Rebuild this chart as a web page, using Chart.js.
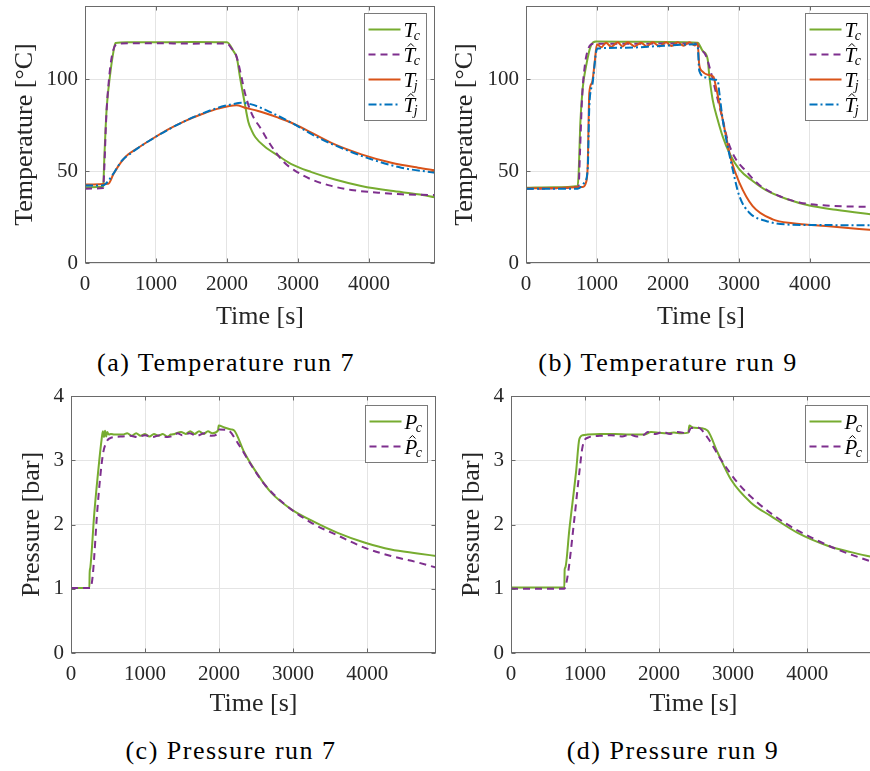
<!DOCTYPE html>
<html>
<head>
<meta charset="utf-8">
<script src="https://cdn.jsdelivr.net/npm/chart.js@4.4.1/dist/chart.umd.min.js"></script>
<style>
    html, body { margin: 0; padding: 0; background: #fff; }
    body { width: 870px; height: 771px; overflow: hidden; position: relative; }
    canvas { position: absolute; }
    .caption {
        position: absolute;
        font-family: "Liberation Serif", serif;
        font-size: 26px;
        line-height: 26px;
        letter-spacing: 1.5px;
        color: #000;
        white-space: nowrap;
        transform: translateX(-50%);
    }
</style>
</head>
<body>
<canvas id="chart-a" width="440" height="335" style="left:0;top:0"></canvas>
<canvas id="chart-b" width="436" height="335" style="left:440px;top:0"></canvas>
<canvas id="chart-c" width="440" height="340" style="left:0;top:380px"></canvas>
<canvas id="chart-d" width="436" height="340" style="left:440px;top:380px"></canvas>
<div class="caption" style="left:226px;top:350px">(a) Temperature run 7</div>
<div class="caption" style="left:668px;top:350px">(b) Temperature run 9</div>
<div class="caption" style="left:231px;top:738px">(c) Pressure run 7</div>
<div class="caption" style="left:673px;top:738px">(d) Pressure run 9</div>

<script>
// ---- data ----
const X_MAX = 4930;
const timeTicks = [0, 1000, 2000, 3000, 4000];
const tempTicks = [0, 50, 100];
const presTicks = [0, 1, 2, 3, 4];

// (a) temperature, run 7
const run7TcTime = [0, 250, 258, 270, 305, 352, 400, 430, 600, 1000, 1500, 2000, 2090, 2140, 2180, 2250, 2300, 2350, 2400, 2530, 2720, 2900, 3190, 3520, 3890, 4310, 4690, 4930];
const run7Tc = [41.2, 41.4, 42, 55, 84, 102, 115, 119.8, 120.3, 120.2, 120.4, 120.2, 115.5, 111.5, 102, 87, 77, 72, 68.5, 63.5, 58.5, 54, 49.5, 45.5, 42, 39.3, 37.5, 35.8];
const run7TcHatTime = [0, 255, 270, 300, 340, 380, 430, 500, 1000, 1500, 2000, 2060, 2130, 2200, 2250, 2340, 2480, 2620, 2800, 2950, 3190, 3470, 3750, 4130, 4460, 4930];
const run7TcHat = [40.5, 40.8, 50, 80, 101, 113, 118.8, 119.6, 119.7, 119.5, 119.6, 117, 113, 102, 93, 82, 73, 64, 55, 50.5, 45.5, 42, 39.8, 38.3, 37.4, 37];
const run7TjTime = [0, 328, 399, 469, 540, 610, 750, 938, 1172, 1407, 1641, 1876, 2134, 2251, 2439, 2720, 2908, 3189, 3518, 3893, 4315, 4690, 4930];
const run7Tj = [42.8, 43.2, 48.3, 52.8, 56.5, 59.2, 62.8, 67.4, 72.8, 77.3, 81, 84.1, 85.9, 84.6, 82.8, 79.2, 76.4, 71, 64.6, 59.2, 54.6, 51.9, 50.5];
const run7TjHatTime = [0, 258, 328, 422, 516, 657, 938, 1407, 1876, 2064, 2204, 2345, 2626, 2908, 3283, 3658, 4033, 4456, 4930];
const run7TjHat = [42.2, 42.3, 44.7, 50, 55.6, 60.1, 67.4, 77.3, 84.6, 86.4, 87.3, 86.4, 81.9, 76.4, 68.3, 61.9, 56.5, 51.9, 49.2];

// (b) temperature, run 9
const run9TcTime = [0, 400, 728, 742, 765, 798, 845, 916, 986, 1500, 2000, 2418, 2488, 2559, 2582, 2629, 2700, 2770, 2864, 3005, 3193, 3380, 3662, 3991, 4366, 4930];
const run9Tc = [41, 41.3, 42, 49, 76, 95, 107, 118.6, 120.6, 120.5, 120.4, 120, 115.5, 111, 102, 89, 78, 69, 60, 51, 44.7, 39.7, 35, 31.3, 29, 26.2];
const run9TcHatTime = [0, 740, 760, 790, 830, 880, 950, 1500, 2000, 2400, 2441, 2535, 2606, 2676, 2770, 2840, 2934, 3099, 3287, 3568, 3850, 4225, 4930];
const run9TcHat = [40.5, 41.5, 60, 90, 108, 117, 119.5, 119.4, 119.6, 119.5, 117.3, 112.8, 103.7, 92.8, 78.3, 67, 58, 50, 42.5, 36.5, 33, 31.3, 30.5];
const run9TjTime = [0, 798, 845, 869, 892, 930, 962, 1000, 1060, 1127, 1200, 1291, 1360, 1432, 1530, 1620, 1700, 1784, 1880, 1972, 2050, 2136, 2220, 2300, 2380, 2418, 2440, 2480, 2560, 2640, 2670, 2723, 2817, 2887, 3005, 3193, 3474, 3756, 4225, 4930];
const run9Tj = [40.7, 41.4, 43.8, 52.8, 92.8, 98.2, 107.3, 119.1, 117.5, 120, 117.8, 120.2, 118, 120.2, 118, 120, 118, 120.2, 118, 120.2, 118.2, 120.2, 118.3, 120.2, 118.5, 119.7, 108, 104.5, 102.5, 101.5, 97, 87.3, 69.2, 56.5, 43.8, 31, 23.8, 21.6, 20.1, 17.8];
const run9TjHatTime = [0, 728, 822, 869, 892, 939, 986, 1009, 1408, 1878, 2394, 2418, 2441, 2535, 2629, 2700, 2723, 2770, 2840, 2911, 3005, 3146, 3380, 3662, 3991, 4930];
const run9TjHat = [40.5, 40.5, 43.8, 51, 85.5, 98.2, 114.6, 116.8, 117.3, 118.2, 119.1, 118.2, 104.6, 101, 100, 99.5, 92.8, 78.3, 63.7, 51, 36.5, 27.4, 22.9, 21, 20.7, 20.6];

// (c) pressure, run 7
const run7PcTime = [0, 248, 252, 261, 315, 383, 414, 430, 445, 460, 475, 490, 510, 540, 585, 700, 760, 820, 880, 940, 1000, 1060, 1120, 1180, 1240, 1300, 1350, 1400, 1486, 1550, 1610, 1670, 1730, 1790, 1850, 1910, 1985, 1995, 2071, 2161, 2206, 2341, 2521, 2701, 2971, 3286, 3602, 3962, 4322, 4682, 4930];
const run7Pc = [1.01, 1.01, 1.25, 1.33, 2.18, 3.01, 3.33, 3.45, 3.36, 3.46, 3.37, 3.44, 3.40, 3.41, 3.40, 3.40, 3.42, 3.38, 3.42, 3.38, 3.41, 3.37, 3.41, 3.38, 3.41, 3.37, 3.40, 3.41, 3.44, 3.41, 3.45, 3.41, 3.45, 3.41, 3.45, 3.42, 3.46, 3.54, 3.51, 3.48, 3.46, 3.12, 2.78, 2.50, 2.24, 2.04, 1.87, 1.72, 1.61, 1.55, 1.51];
const run7PcHatTime = [0, 261, 293, 360, 428, 473, 540, 700, 800, 900, 1000, 1100, 1200, 1300, 1400, 1441, 1500, 1600, 1700, 1800, 1900, 1985, 2003, 2116, 2251, 2431, 2611, 2881, 3241, 3602, 3962, 4322, 4682, 4930];
const run7PcHat = [1.01, 1.01, 1.2, 2.29, 3.07, 3.27, 3.35, 3.37, 3.38, 3.36, 3.39, 3.36, 3.39, 3.36, 3.39, 3.42, 3.39, 3.42, 3.38, 3.42, 3.38, 3.42, 3.48, 3.47, 3.27, 2.93, 2.63, 2.32, 2.03, 1.83, 1.64, 1.51, 1.41, 1.33];

// (d) pressure, run 9
const run9PcTime = [0, 720, 725, 734, 788, 878, 923, 968, 1035, 1200, 1400, 1600, 1800, 1891, 2000, 2100, 2200, 2300, 2395, 2409, 2454, 2566, 2656, 2791, 2971, 3241, 3512, 3872, 4277, 4592, 4930];
const run9Pc = [1.02, 1.02, 1.3, 1.33, 1.92, 2.81, 3.33, 3.39, 3.40, 3.41, 3.41, 3.40, 3.40, 3.44, 3.43, 3.42, 3.43, 3.42, 3.43, 3.54, 3.51, 3.50, 3.46, 3.12, 2.70, 2.34, 2.13, 1.87, 1.67, 1.57, 1.48];
const run9PcHatTime = [0, 720, 765, 855, 923, 968, 1035, 1200, 1351, 1500, 1600, 1700, 1800, 1846, 1950, 2050, 2150, 2250, 2386, 2431, 2521, 2656, 2836, 3061, 3331, 3692, 4052, 4412, 4849, 4930];
const run9PcHat = [1.0, 1.0, 1.2, 2.08, 2.81, 3.22, 3.35, 3.38, 3.39, 3.37, 3.40, 3.37, 3.40, 3.44, 3.41, 3.44, 3.41, 3.44, 3.42, 3.50, 3.51, 3.35, 3.01, 2.65, 2.34, 2.03, 1.80, 1.61, 1.43, 1.40];

// ---- styles (matlab default colours) ----
const GREEN = '#77AC30', PURPLE = '#7E2F8E', ORANGE = '#D95319', BLUE = '#0072BD';
const SOLID = [], DASHED = [7, 5], DASHDOT = [8, 3, 2, 3];
const TEXT_COLOR = '#262626';
const SERIF = '"Liberation Serif", serif';

const toPoints = (t, v) => t.map((x, i) => ({ x, y: v[i] }));

// math-style legend (italic letter, optional hat, subscript) + matlab box with inner ticks
const matlabBox = {
    id: 'matlabBox',
    afterDraw(chart, args, opts) {
        const ctx = chart.ctx;
        const area = chart.chartArea;
        ctx.save();

        // axes box
        ctx.strokeStyle = '#6a6a6a';
        ctx.lineWidth = 1;
        const l = Math.round(area.left) + 0.5, t = Math.round(area.top) + 0.5;
        const r = Math.round(area.right) - 0.5, b = Math.round(area.bottom) - 0.5;
        ctx.strokeRect(l, t, r - l, b - t);

        // inward tick marks
        const xs = chart.scales.x, ys = chart.scales.y;
        ctx.beginPath();
        xs.ticks.forEach(tk => {
            const px = Math.round(xs.getPixelForValue(tk.value)) + 0.5;
            ctx.moveTo(px, b); ctx.lineTo(px, b - 4);
            ctx.moveTo(px, t); ctx.lineTo(px, t + 4);
        });
        ys.ticks.forEach(tk => {
            const py = Math.round(ys.getPixelForValue(tk.value)) + 0.5;
            ctx.moveTo(l, py); ctx.lineTo(l + 4, py);
            ctx.moveTo(r, py); ctx.lineTo(r - 4, py);
        });
        ctx.stroke();

        // legend
        const entries = opts.entries || [];
        const w = 62, rowH = 25;
        const h = rowH * (entries.length - 1) + 32;
        const x0 = Math.round(area.right - opts.right - w) + 0.5;
        const y0 = Math.round(area.top + opts.top) + 0.5;
        ctx.fillStyle = '#fff';
        ctx.fillRect(x0, y0, w, h);
        ctx.strokeStyle = '#7a7a7a';
        ctx.strokeRect(x0, y0, w, h);

        entries.forEach((e, i) => {
            const ds = chart.data.datasets[i];
            const cy = y0 + 16 + rowH * i;
            ctx.save();
            ctx.strokeStyle = ds.borderColor;
            ctx.lineWidth = ds.borderWidth;
            ctx.setLineDash(ds.borderDash || []);
            ctx.beginPath();
            ctx.moveTo(x0 + 4, cy);
            ctx.lineTo(x0 + 36, cy);
            ctx.stroke();
            ctx.restore();

            const bx = x0 + 39, by = cy + 7;
            ctx.fillStyle = '#000';
            ctx.textAlign = 'left';
            ctx.textBaseline = 'alphabetic';
            ctx.font = 'italic 21px ' + SERIF;
            ctx.fillText(e.base, bx, by);
            const bw = ctx.measureText(e.base).width;
            if (e.hat) {
                const hx = bx + bw / 2 + 1.5, hy = by - 17;
                ctx.beginPath();
                ctx.lineWidth = 1;
                ctx.strokeStyle = '#000';
                ctx.moveTo(hx - 3, hy + 2);
                ctx.lineTo(hx, hy - 1);
                ctx.lineTo(hx + 3, hy + 2);
                ctx.stroke();
            }
            ctx.font = 'italic 14px ' + SERIF;
            ctx.fillText(e.sub, bx + bw - 1.5, by + 3);
        });
        ctx.restore();
    }
};

function makeChart(id, cfg) {
    const n = cfg.series.length;
    return new Chart(document.getElementById(id), {
        type: 'line',
        data: {
            datasets: cfg.series.map((s, i) => ({
                label: s.label,
                data: toPoints(s.time, s.values),
                borderColor: s.color,
                borderWidth: 2,
                borderDash: s.dash,
                pointRadius: 0,
                cubicInterpolationMode: 'monotone',
                order: n - 1 - i   // later series drawn on top, like matlab
            }))
        },
        options: {
            responsive: false,
            animation: false,
            devicePixelRatio: 1,
            layout: { padding: { top: cfg.padTop, right: cfg.padRight, left: 0, bottom: 0 } },
            plugins: {
                legend: { display: false },
                tooltip: { enabled: false },
                matlabBox: {
                    right: 9,
                    top: cfg.legendTop,
                    entries: cfg.series.map(s => ({ base: s.base, sub: s.sub, hat: s.hat }))
                }
            },
            scales: {
                x: {
                    type: 'linear',
                    min: 0,
                    max: X_MAX,
                    grid: { color: '#e4e4e4', drawTicks: false },
                    border: { display: false },
                    afterBuildTicks: s => { s.ticks = timeTicks.map(v => ({ value: v })); },
                    ticks: {
                        autoSkip: false,
                        maxRotation: 0,
                        padding: 9,
                        color: TEXT_COLOR,
                        font: { family: SERIF, size: 21 },
                        callback: v => String(v)
                    },
                    title: {
                        display: true,
                        text: 'Time [s]',
                        color: TEXT_COLOR,
                        font: { family: SERIF, size: 26 },
                        padding: { top: 0, bottom: cfg.xTitlePad }
                    },
                    afterFit: s => { s.height = cfg.xAxisH; s.paddingLeft = 0; s.paddingRight = 0; }
                },
                y: {
                    min: 0,
                    max: cfg.yMax,
                    grid: { color: '#e4e4e4', drawTicks: false },
                    border: { display: false },
                    afterBuildTicks: s => { s.ticks = cfg.yTicks.map(v => ({ value: v })); },
                    ticks: {
                        autoSkip: false,
                        padding: 7,
                        color: TEXT_COLOR,
                        font: { family: SERIF, size: 21 },
                        callback: v => String(v)
                    },
                    title: {
                        display: true,
                        text: cfg.yTitle,
                        color: TEXT_COLOR,
                        font: { family: SERIF, size: 26 },
                        padding: { top: cfg.yTitlePad, bottom: 0 }
                    },
                    afterFit: s => { s.width = cfg.yAxisW; s.paddingTop = 0; s.paddingBottom = 0; }
                }
            }
        },
        plugins: [matlabBox]
    });
}

const tempSeries = (tc, tcT, tch, tchT, tj, tjT, tjh, tjhT) => [
    { label: 'T_c', base: 'T', sub: 'c', hat: false, time: tcT, values: tc, color: GREEN, dash: SOLID },
    { label: 'T̂_c', base: 'T', sub: 'c', hat: true, time: tchT, values: tch, color: PURPLE, dash: DASHED },
    { label: 'T_j', base: 'T', sub: 'j', hat: false, time: tjT, values: tj, color: ORANGE, dash: SOLID },
    { label: 'T̂_j', base: 'T', sub: 'j', hat: true, time: tjhT, values: tjh, color: BLUE, dash: DASHDOT }
];
const presSeries = (pc, pcT, pch, pchT) => [
    { label: 'P_c', base: 'P', sub: 'c', hat: false, time: pcT, values: pc, color: GREEN, dash: SOLID },
    { label: 'P̂_c', base: 'P', sub: 'c', hat: true, time: pchT, values: pch, color: PURPLE, dash: DASHED }
];

makeChart('chart-a', {
    series: tempSeries(run7Tc, run7TcTime, run7TcHat, run7TcHatTime, run7Tj, run7TjTime, run7TjHat, run7TjHatTime),
    yMax: 140, yTicks: tempTicks, yTitle: 'Temperature [°C]',
    padTop: 6, padRight: 5, yAxisW: 85, xAxisH: 72,
    xTitlePad: 2, yTitlePad: 9.5, legendTop: 7
});
makeChart('chart-b', {
    series: tempSeries(run9Tc, run9TcTime, run9TcHat, run9TcHatTime, run9Tj, run9TjTime, run9TjHat, run9TjHatTime),
    yMax: 140, yTicks: tempTicks, yTitle: 'Temperature [°C]',
    padTop: 6, padRight: 0, yAxisW: 86, xAxisH: 72,
    xTitlePad: 2, yTitlePad: 10, legendTop: 7
});
makeChart('chart-c', {
    series: presSeries(run7Pc, run7PcTime, run7PcHat, run7PcHatTime),
    yMax: 4, yTicks: presTicks, yTitle: 'Pressure [bar]',
    padTop: 16, padRight: 4, yAxisW: 71, xAxisH: 67,
    xTitlePad: 0, yTitlePad: 17, legendTop: 9
});
makeChart('chart-d', {
    series: presSeries(run9Pc, run9PcTime, run9PcHat, run9PcHatTime),
    yMax: 4, yTicks: presTicks, yTitle: 'Pressure [bar]',
    padTop: 16, padRight: 0, yAxisW: 71, xAxisH: 67,
    xTitlePad: 0, yTitlePad: 17, legendTop: 9
});
</script>
</body>
</html>
